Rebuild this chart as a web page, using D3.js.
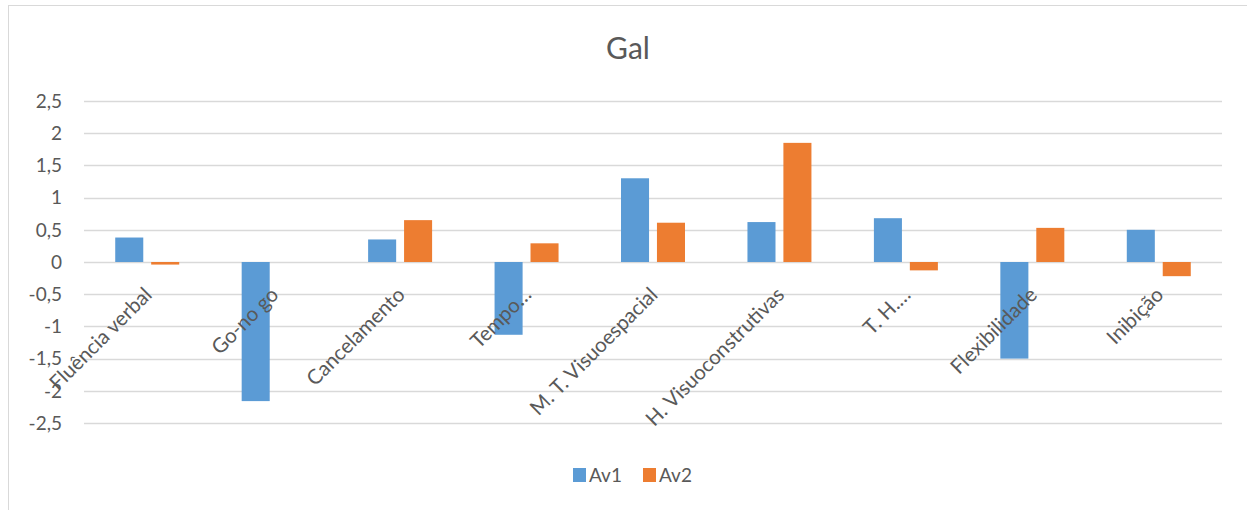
<!DOCTYPE html>
<html>
<head>
<meta charset="utf-8">
<script src="https://cdn.jsdelivr.net/npm/d3@7"></script>
<style>
  html, body { margin: 0; padding: 0; background: #fff; }
  svg { display: block; }
  text { font-family: Lato, "Open Sans", sans-serif; fill: #595959; }
</style>
</head>
<body>
<svg id="chart" width="1247" height="510"></svg>
<script>
// Category labels (x axis)
const categories = [
  "Fluência verbal", "Go-no go", "Cancelamento", "Tempo…",
  "M. T. Visuoespacial", "H. Visuoconstrutivas", "T. H.…",
  "Flexibilidade", "Inibição"
];
// Series names
const seriesNames = ["Av1", "Av2"];
// Values for each assessment
const av1 = [0.38, -2.16, 0.35, -1.13, 1.30, 0.62, 0.68, -1.50, 0.50];
const av2 = [-0.04, 0, 0.65, 0.29, 0.61, 1.85, -0.13, 0.53, -0.22];
// Y axis ticks
const yTicks = [2.5, 2, 1.5, 1, 0.5, 0, -0.5, -1, -1.5, -2, -2.5];

const colors = { Av1: "#5b9bd5", Av2: "#ed7d31" };
const seriesValues = { Av1: av1, Av2: av2 };

const svg = d3.select("#chart");
const plot = { left: 84, right: 1222, top: 101, bottom: 423 };

// Chart area frame
svg.append("rect")
  .attr("x", 8.5).attr("y", 5.5)
  .attr("width", 1400).attr("height", 700)
  .attr("fill", "#fff")
  .attr("stroke", "#d9d9d9").attr("stroke-width", 1);

// Title
svg.append("text")
  .attr("x", 628).attr("y", 59)
  .attr("text-anchor", "middle")
  .style("font-size", "30px")
  .text("Gal");

const y = d3.scaleLinear().domain([-2.5, 2.5]).range([plot.bottom, plot.top]);
const x0 = d3.scaleBand().domain(categories).range([plot.left, plot.right])
  .paddingInner(0.494).paddingOuter(0.247);
const x1 = d3.scaleBand().domain(seriesNames).range([0, x0.bandwidth()])
  .paddingInner(0.22);

// Gridlines
svg.append("g")
  .selectAll("line")
  .data(yTicks)
  .join("line")
  .attr("x1", plot.left).attr("x2", plot.right)
  .attr("y1", d => Math.round(y(d)) + 0.5)
  .attr("y2", d => Math.round(y(d)) + 0.5)
  .attr("stroke", "#d9d9d9").attr("stroke-width", 1.3);

// Y axis labels
const fmt = d => String(d).replace(".", ",");
svg.append("g")
  .selectAll("text")
  .data(yTicks)
  .join("text")
  .attr("x", 62)
  .attr("y", d => y(d))
  .attr("dy", "0.36em")
  .attr("text-anchor", "end")
  .style("font-size", "19px")
  .text(fmt);

// Bars
const groups = svg.append("g")
  .selectAll("g")
  .data(categories)
  .join("g")
  .attr("transform", d => `translate(${x0(d)},0)`);

groups.selectAll("rect")
  .data((d, i) => seriesNames.map(s => ({ s, v: seriesValues[s][i] })))
  .join("rect")
  .filter(d => d.v !== 0)
  .attr("x", d => x1(d.s))
  .attr("width", x1.bandwidth())
  .attr("y", d => y(Math.max(0, d.v)))
  .attr("height", d => Math.abs(y(d.v) - y(0)))
  .attr("fill", d => colors[d.s]);

// Category labels, rotated
svg.append("g")
  .selectAll("text")
  .data(categories)
  .join("text")
  .attr("transform", d => `translate(${x0(d) + x0.bandwidth() / 2 + 6},${y(0) + 34}) rotate(-45)`)
  .attr("text-anchor", "end")
  .style("font-size", "20.5px")
  .text(d => d);

// Legend
const legend = svg.append("g");
const legendItems = [
  { s: "Av1", x: 573 },
  { s: "Av2", x: 643 }
];
legend.selectAll("rect")
  .data(legendItems)
  .join("rect")
  .attr("x", d => d.x).attr("y", 468)
  .attr("width", 13).attr("height", 14)
  .attr("fill", d => colors[d.s]);
legend.selectAll("text")
  .data(legendItems)
  .join("text")
  .attr("x", d => d.x + 16).attr("y", 482)
  .style("font-size", "19px")
  .text(d => d.s);
</script>
</body>
</html>
